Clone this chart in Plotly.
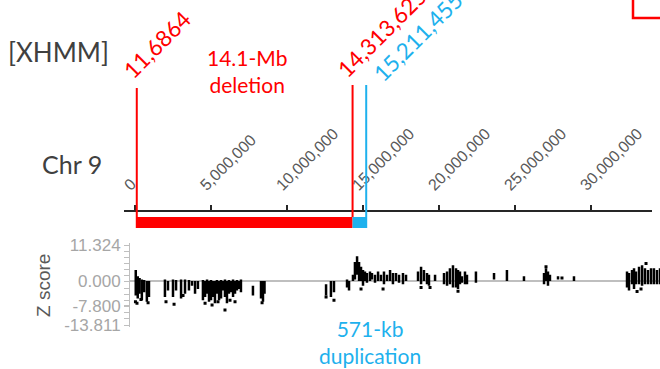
import plotly.graph_objects as go

W, H = 660, 369

# ---- data ----
del_start = 116864
del_end = 14313625
dup_end = 15211455
del_label = "11,6864"
del_end_label = "14,313,625"
dup_end_label = "15,211,455"

chr_tick_vals = [0, 5000000, 10000000, 15000000, 20000000, 25000000, 30000000]
chr_tick_text = ["0", "5,000,000", "10,000,000", "15,000,000", "20,000,000", "25,000,000", "30,000,000"]

z_tick_vals = [11.324, 0.0, -7.8, -13.811]
z_tick_text = ["11.324", "0.000", "-7.800", "-13.811"]

# vertical clusters of Z scores: position (Mb), low, high
bar_pos_mb = [0.05, 0.18, 0.30, 0.45, 0.60, 0.78, 0.92,
              1.97, 2.17, 2.50, 2.70, 3.03, 3.29, 3.55, 3.75, 3.95, 4.14,
              4.47, 4.61, 4.74, 4.87, 5.00, 5.13, 5.26, 5.39, 5.53, 5.66, 5.79, 5.92,
              6.05, 6.18, 6.32, 6.45, 6.58, 6.71, 6.84, 6.97,
              7.76, 8.29, 8.42, 8.52,
              12.57, 12.89, 13.09, 13.95, 14.08,
              14.34, 14.47, 14.61, 14.74, 14.87, 15.00, 15.13, 15.26, 15.46, 15.59,
              15.79, 15.99, 16.18, 16.38, 16.58, 16.78, 16.97, 17.17, 17.37, 17.63, 17.83,
              18.62, 18.82, 19.01, 19.21, 19.34, 19.74,
              20.33, 20.53, 20.72, 20.92, 21.12, 21.25, 21.38, 21.51, 21.71, 21.84,
              22.43, 23.62, 24.47, 25.59,
              26.91, 27.04, 27.17, 27.30, 27.83, 28.88,
              32.37, 32.50, 32.70, 32.83, 32.96, 33.16, 33.36, 33.55, 33.75, 33.95,
              34.14, 34.34, 34.54]
bar_lo = [-4.5, -5.5, -4.0, -6.0, -3.5, -6.5, -5.0,
          -5.0, -3.0, -5.0, -3.0, -5.5, -4.0, -3.0, -1.5, -4.0, -2.5,
          -6.0, -5.0, -4.0, -6.5, -6.0, -5.0, -7.0, -4.0, -6.0, -5.5, -3.0, -5.0,
          -7.0, -4.0, -3.5, -5.0, -4.0, -3.0, -2.5, -3.5,
          -4.5, -5.5, -6.5, -4.0,
          -4.5, -5.0, -3.5, -2.0, -3.0,
          0.0, 0.5, 2.0, 0.0, 0.0, -1.5, 0.0, -0.5, 0.0, 0.5,
          -0.5, 0.0, 0.0, -1.0, 0.0, 0.0, -1.0, 0.0, -0.5, -1.0, 0.0,
          0.0, -1.0, 0.0, -1.0, -1.5, 0.0,
          -1.0, -1.5, -1.0, -2.0, -2.0, -2.5, -1.0, -0.5, -1.0, -1.0,
          -0.5, 0.5, 0.0, 0.0,
          -1.0, 0.0, -1.5, 0.0, 0.5, 0.0,
          -2.0, -3.0, -1.0, -2.5, -1.0, -1.0, -1.5, -1.0, -1.0, -1.0,
          -1.0, -1.0, -1.0]
bar_hi = [3.5, 1.5, 1.0, 0.5, 0.3, 0.0, 0.0,
          0.5, 0.0, 0.5, 0.3, 0.5, 0.5, 0.3, 0.0, 0.0, 0.0,
          0.3, 0.0, 0.5, 0.0, 0.3, 0.0, 0.0, 0.3, 0.0, 0.3, 0.0, 0.5,
          0.0, 0.3, 0.0, 0.5, 0.0, 0.3, 0.0, 0.5,
          -1.5, 0.0, 0.0, 0.0,
          -1.0, 0.0, 0.0, 0.5, 0.0,
          2.0, 6.0, 7.8, 6.0, 4.5, 3.5, 3.0, 2.5, 3.0, 2.5,
          2.0, 3.0, 2.0, 3.0, 2.0, 3.5, 2.5, 2.5, 2.0, 2.5, 2.0,
          3.0, 4.5, 3.5, 2.5, 2.0, 2.0,
          2.5, 3.0, 4.0, 5.0, 4.0, 3.5, 3.0, 1.5, 3.0, 2.0,
          3.0, 2.5, 3.5, 1.5,
          2.5, 4.0, 3.0, 2.0, 1.5, 1.5,
          3.0, 2.5, 3.5, 4.0, 3.0, 4.5, 5.0, 4.0, 3.5, 4.0,
          4.0, 3.5, 4.0]

# isolated outlying probes: position (Mb), Z
dot_pos_mb = [0.03, 0.13, 0.39, 0.86, 2.04, 2.57, 3.16, 4.61, 5.07, 5.46, 5.92,
              6.25, 6.58, 8.36, 12.57, 13.09, 14.87, 16.32, 18.82, 19.41, 21.25,
              27.04, 28.09, 33.03, 33.29, 33.62]
dot_z = [-6.5, -7.0, -5.8, -6.8, -6.5, -7.3, -4.5, -7.0, -7.5, -6.5, -9.1,
         -6.0, -6.5, -6.8, -5.0, -6.0, -2.5, -2.5, -2.0, -2.0, -3.2,
         4.5, 1.0, -3.3, -2.5, 5.5]

RED = "#FF0000"
BLUE = "#1EB1ED"

# build segments
seg_x, seg_y = [], []
for p, lo, hi in zip(bar_pos_mb, bar_lo, bar_hi):
    seg_x += [p * 1e6, p * 1e6, None]
    seg_y += [lo, hi, None]

fig = go.Figure()
fig.add_trace(go.Scatter(x=seg_x, y=seg_y, mode="lines", xaxis="x2", yaxis="y2",
                         line=dict(color="black", width=2.5), hoverinfo="skip", showlegend=False))
fig.add_trace(go.Scatter(x=[p * 1e6 for p in dot_pos_mb], y=dot_z, mode="markers", xaxis="x2", yaxis="y2",
                         marker=dict(color="black", size=3, symbol="square"), showlegend=False))

def py(v):
    return (H - v) / H

def px(v):
    return v / W

fig.update_layout(
    width=W, height=H, margin=dict(l=0, r=0, t=0, b=0, autoexpand=False),
    paper_bgcolor="white", plot_bgcolor="rgba(0,0,0,0)",
    showlegend=False,
    xaxis=dict(domain=[px(124), px(652)], automargin=False,
               range=[(124 - 135) / 15.2 * 1e6, (652 - 135) / 15.2 * 1e6],
               anchor="free", position=py(211), side="top",
               showline=True, linecolor="#262626", linewidth=1.5,
               ticks="outside", ticklen=5, tickwidth=1.5, tickcolor="#262626",
               tickmode="array", tickvals=chr_tick_vals, ticktext=chr_tick_text,
               tickangle=-45, ticklabelstandoff=5, ticklabelshift=-10,
               tickfont=dict(family="Liberation Sans", size=16, color="#595959"),
               showgrid=False, zeroline=False, fixedrange=True),
    yaxis=dict(domain=[py(230), py(0)], visible=False, range=[0, 1], automargin=False),
    xaxis2=dict(domain=[px(130), 1], anchor="y2", automargin=False,
                range=[(130 - 135) / 15.2 * 1e6, (660 - 135) / 15.2 * 1e6],
                visible=False),
    yaxis2=dict(domain=[py(327.2), py(242.9)], anchor="x2", range=[-14.5, 12.0], automargin=False,
                showline=True, linecolor="#bfbfbf", linewidth=1,
                ticks="outside", ticklen=5, tickcolor="#bfbfbf",
                tickmode="array", tickvals=z_tick_vals, ticktext=z_tick_text,
                tickfont=dict(family="Liberation Sans", size=17, color="#a6a6a6"),
                minor=dict(tickmode="linear", tick0=-13.811, dtick=1.9335, ticks="outside",
                           ticklen=5, tickcolor="#bfbfbf"),
                showgrid=False, zeroline=True, zerolinecolor="#bfbfbf", zerolinewidth=1.5),
)

shapes = [
    dict(type="rect", xref="x", yref="paper", x0=del_start, x1=del_end, y0=py(228), y1=py(217),
         fillcolor=RED, line=dict(width=0)),
    dict(type="rect", xref="x", yref="paper", x0=del_end, x1=dup_end, y0=py(228), y1=py(217),
         fillcolor=BLUE, line=dict(width=0)),
    dict(type="line", xref="x", yref="paper", x0=del_start, x1=del_start, y0=py(228), y1=py(88),
         line=dict(color=RED, width=2)),
    dict(type="line", xref="x", yref="paper", x0=del_end, x1=del_end, y0=py(217), y1=py(85),
         line=dict(color=RED, width=2)),
    dict(type="line", xref="x", yref="paper", x0=dup_end, x1=dup_end, y0=py(228), y1=py(85),
         line=dict(color=BLUE, width=2)),
    dict(type="rect", xref="paper", yref="paper", x0=px(633), x1=px(680), y0=py(18), y1=py(-10),
         line=dict(color=RED, width=2.5), fillcolor="rgba(0,0,0,0)"),
]
fig.update_layout(shapes=shapes)

CAL = "Lato"
ann = [
    dict(text="[XHMM]", x=px(58), y=py(52), font=dict(family=CAL, size=26, color="#404040")),
    dict(text="14.1-Mb<br>deletion", x=px(247), y=py(71), font=dict(family=CAL, size=21, color=RED)),
    dict(text="Chr 9", x=px(71.5), y=py(164), font=dict(family=CAL, size=25, color="#404040")),
    dict(text="571-kb<br>duplication", x=px(370), y=py(342), font=dict(family=CAL, size=21, color=BLUE)),
    dict(text="Z score", x=px(43), y=py(286), textangle=-90,
         font=dict(family="Liberation Sans", size=19, color="#595959")),
    dict(text=del_label, x=px(115), y=py(86), xanchor="left", yanchor="bottom", textangle=-45,
         font=dict(family=CAL, size=22.5, color=RED)),
    dict(text=del_end_label, x=px(329), y=py(86), xanchor="left", yanchor="bottom", textangle=-45,
         font=dict(family=CAL, size=22.5, color=RED)),
    dict(text=dup_end_label, x=px(365), y=py(90), xanchor="left", yanchor="bottom", textangle=-45,
         font=dict(family=CAL, size=22.5, color=BLUE)),
]
for a in ann:
    a.setdefault("xanchor", "center")
    a.setdefault("yanchor", "middle")
    a.update(xref="paper", yref="paper", showarrow=False)
fig.update_layout(annotations=ann)

fig.write_html("out.html", config={"displayModeBar": False},
               post_script="document.body.style.margin='0';")
